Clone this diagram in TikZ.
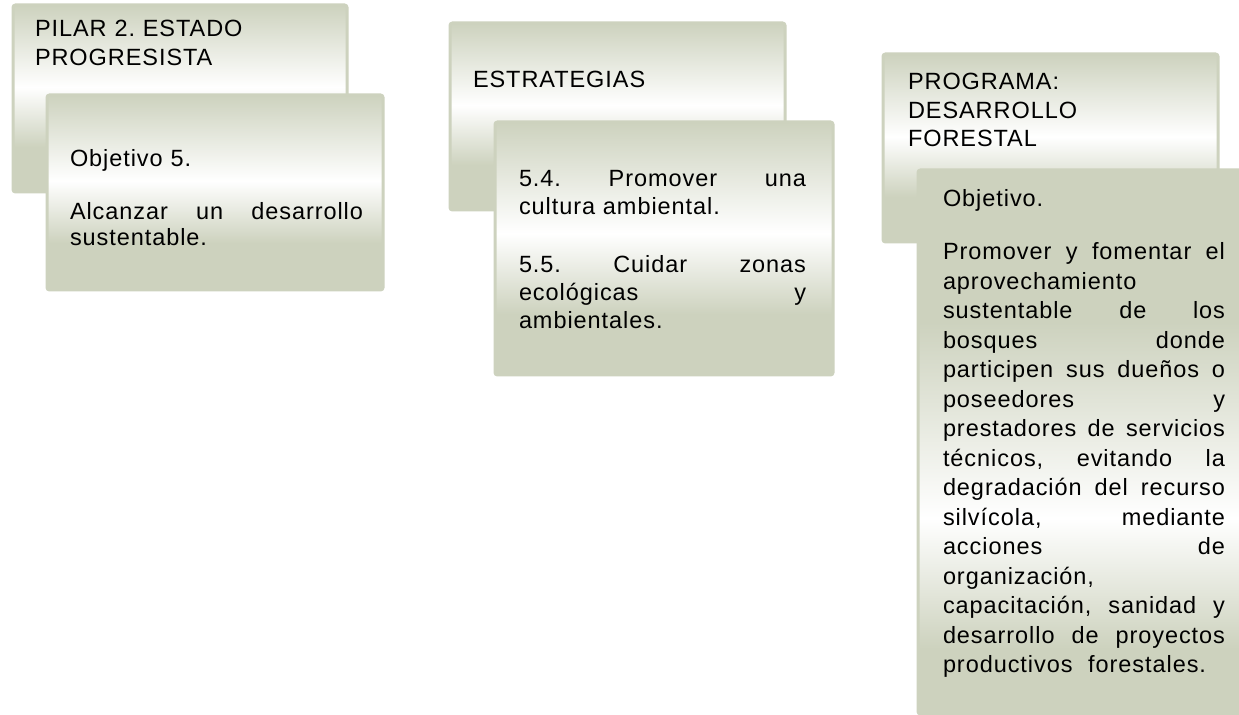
\documentclass[tikz,border=0pt]{standalone}
\usepackage{fontspec}
\setmainfont{Liberation Sans}[LetterSpace=4]
\frenchspacing
\newdimen\pxu \pxu=0.5pt
\definecolor{gc}{RGB}{205,210,190}
\pgfdeclareverticalshading{boxshade}{100bp}{color(0bp)=(gc); color(25bp)=(gc); color(37bp)=(gc); color(53bp)=(white); color(75bp)=(gc); color(100bp)=(gc)}
\pgfdeclareverticalshading{longshade}{100bp}{color(0bp)=(gc); color(25bp)=(gc); color(31bp)=(gc); color(43bp)=(white); color(61bp)=(gc); color(75bp)=(gc); color(100bp)=(gc)}
\tikzset{
  boxn/.style={rectangle, rounded corners=2.5\pxu, shading=boxshade, shade,
    draw=gc, line width=3\pxu, inner sep=0pt, outer sep=0pt, anchor=north west},
  longbox/.style={boxn, shading=longshade},
  txt/.style={anchor=base west, inner sep=0pt, outer sep=0pt, align=left,
    font=\fontsize{23.5\pxu}{#1\pxu}\selectfont, text=black},
  txt/.default=28.5
}
\begin{document}
\begin{tikzpicture}[x=0.5pt,y=-0.5pt]
\useasboundingbox (0,0) rectangle (1239,715);
\fill[white] (0,0) rectangle (1239,715);
\clip (0,0) rectangle (1239,715);
% column 1
\node[boxn, minimum width=334\pxu, minimum height=187\pxu] (b1) at (13,5) {};
\node[txt, text width=300\pxu] (t1) at (35,37) {PILAR 2. ESTADO\\PROGRESISTA};
\node[boxn, minimum width=336\pxu, minimum height=195\pxu] (b2) at (47,95) {};
\node[txt=25.5, text width=293\pxu] (t2) at (70,167) {Objetivo 5.\\[27.5\pxu]
Alcanzar\hfill un\hfill desarrollo\\
sustentable.};
% column 2
\node[boxn, minimum width=335\pxu, minimum height=187\pxu] (b3) at (450,23) {};
\node[txt, text width=300\pxu] (t3) at (473,88) {ESTRATEGIAS};
\node[boxn, minimum width=338\pxu, minimum height=253\pxu] (b4) at (495,122) {};
\node[txt=28, text width=287\pxu] (t4) at (519,187) {5.4.\hfill Promover\hfill una\\
cultura ambiental.\\[30\pxu]
5.5.\hfill Cuidar\hfill zonas\\
ecológicas\hfill y\\
ambientales.};
% column 3
\node[boxn, minimum width=335\pxu, minimum height=188\pxu] (b5) at (883,54) {};
\node[txt, text width=300\pxu] (t5) at (908,90) {PROGRAMA:\\DESARROLLO\\FORESTAL};
\node[longbox, minimum width=334\pxu, minimum height=544\pxu] (b6) at (918,170) {};
\node[txt=29.5, text width=282\pxu] (t6) at (943,207) {Objetivo.\\[23.5\pxu]
Promover\hfill y\hfill fomentar\hfill el\\
aprovechamiento\\
sustentable\hfill de\hfill los\\
bosques\hfill donde\\
participen\hfill sus\hfill dueños\hfill o\\
poseedores\hfill y\\
prestadores\hfill de\hfill servicios\\
técnicos,\hfill evitando\hfill la\\
degradación\hfill del\hfill recurso\\
silvícola,\hfill mediante\\
acciones\hfill de\\
organización,\\
capacitación,\hfill sanidad\hfill y\\
desarrollo\hfill de\hfill proyectos\\
productivos\ \ forestales.};
\end{tikzpicture}
\end{document}
